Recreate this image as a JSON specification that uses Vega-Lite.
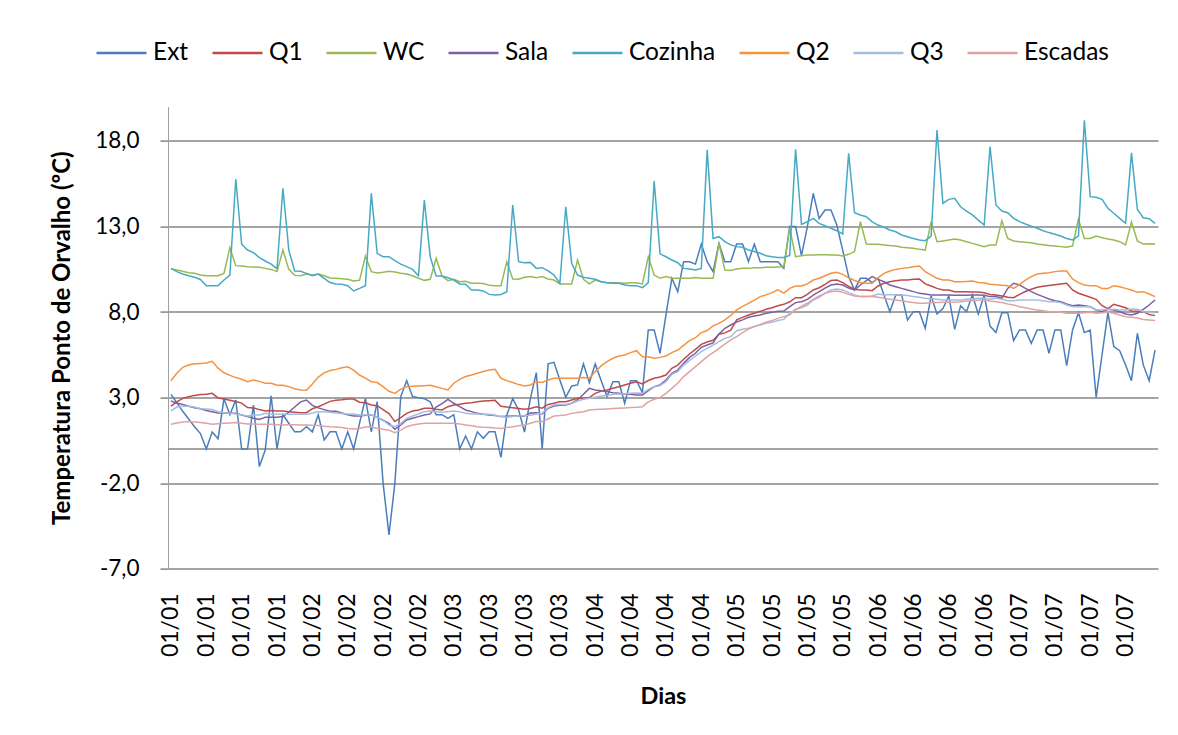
{
"$schema": "https://vega.github.io/schema/vega-lite/v6.json",
"width": 990,
"height": 462.2,
"autosize": {"type": "none"},
"padding": {"left": 168, "top": 106.6, "right": 20, "bottom": 166.2},
"background": "white",
"config": {"font": "Lato", "view": {"stroke": null}},
"data": {"values": [
{"d":0,"Ext":3.19,"Q1":2.5,"WC":10.53,"Sala":2.8,"Cozinha":10.55,"Q2":3.99,"Q3":2.22,"Escadas":1.45},
{"d":1,"Ext":2.7,"Q1":2.75,"WC":10.45,"Sala":2.68,"Cozinha":10.36,"Q2":4.42,"Q3":2.45,"Escadas":1.52},
{"d":2,"Ext":2.2,"Q1":2.95,"WC":10.38,"Sala":2.6,"Cozinha":10.22,"Q2":4.77,"Q3":2.5,"Escadas":1.57},
{"d":3,"Ext":1.75,"Q1":3.05,"WC":10.3,"Sala":2.5,"Cozinha":10.12,"Q2":4.9,"Q3":2.5,"Escadas":1.6},
{"d":4,"Ext":1.3,"Q1":3.13,"WC":10.26,"Sala":2.4,"Cozinha":10.03,"Q2":4.98,"Q3":2.45,"Escadas":1.58},
{"d":5,"Ext":0.9,"Q1":3.18,"WC":10.16,"Sala":2.35,"Cozinha":9.9,"Q2":5.0,"Q3":2.35,"Escadas":1.55},
{"d":6,"Ext":0.0,"Q1":3.2,"WC":10.12,"Sala":2.25,"Cozinha":9.54,"Q2":5.02,"Q3":2.33,"Escadas":1.5},
{"d":7,"Ext":0.99,"Q1":3.25,"WC":10.12,"Sala":2.18,"Cozinha":9.54,"Q2":5.12,"Q3":2.3,"Escadas":1.44},
{"d":8,"Ext":0.6,"Q1":2.98,"WC":10.12,"Sala":2.1,"Cozinha":9.54,"Q2":4.72,"Q3":2.18,"Escadas":1.48},
{"d":9,"Ext":2.94,"Q1":2.92,"WC":10.26,"Sala":2.1,"Cozinha":9.87,"Q2":4.45,"Q3":2.12,"Escadas":1.5},
{"d":10,"Ext":2.0,"Q1":2.85,"WC":11.76,"Sala":2.08,"Cozinha":10.16,"Q2":4.3,"Q3":2.08,"Escadas":1.52},
{"d":11,"Ext":2.86,"Q1":2.77,"WC":10.71,"Sala":2.08,"Cozinha":15.77,"Q2":4.17,"Q3":2.04,"Escadas":1.54},
{"d":12,"Ext":0.0,"Q1":2.68,"WC":10.69,"Sala":1.99,"Cozinha":11.96,"Q2":4.07,"Q3":2.0,"Escadas":1.5},
{"d":13,"Ext":0.0,"Q1":2.42,"WC":10.65,"Sala":1.89,"Cozinha":11.62,"Q2":3.93,"Q3":1.93,"Escadas":1.46},
{"d":14,"Ext":2.57,"Q1":2.4,"WC":10.63,"Sala":1.79,"Cozinha":11.47,"Q2":4.03,"Q3":1.98,"Escadas":1.46},
{"d":15,"Ext":-1.03,"Q1":2.3,"WC":10.61,"Sala":1.73,"Cozinha":11.18,"Q2":3.95,"Q3":1.98,"Escadas":1.45},
{"d":16,"Ext":-0.06,"Q1":2.22,"WC":10.55,"Sala":1.85,"Cozinha":10.98,"Q2":3.84,"Q3":2.08,"Escadas":1.45},
{"d":17,"Ext":3.1,"Q1":2.25,"WC":10.49,"Sala":1.85,"Cozinha":10.8,"Q2":3.84,"Q3":2.05,"Escadas":1.44},
{"d":18,"Ext":0.0,"Q1":2.22,"WC":10.36,"Sala":1.85,"Cozinha":10.53,"Q2":3.72,"Q3":2.03,"Escadas":1.42},
{"d":19,"Ext":2.0,"Q1":2.22,"WC":11.62,"Sala":1.89,"Cozinha":15.23,"Q2":3.72,"Q3":2.03,"Escadas":1.4},
{"d":20,"Ext":1.5,"Q1":2.18,"WC":10.49,"Sala":2.15,"Cozinha":11.62,"Q2":3.64,"Q3":2.03,"Escadas":1.42},
{"d":21,"Ext":1.0,"Q1":2.15,"WC":10.14,"Sala":2.45,"Cozinha":10.4,"Q2":3.52,"Q3":2.03,"Escadas":1.42},
{"d":22,"Ext":1.0,"Q1":2.12,"WC":10.12,"Sala":2.75,"Cozinha":10.38,"Q2":3.45,"Q3":2.03,"Escadas":1.4},
{"d":23,"Ext":1.3,"Q1":2.12,"WC":10.22,"Sala":2.86,"Cozinha":10.26,"Q2":3.43,"Q3":2.03,"Escadas":1.4},
{"d":24,"Ext":1.0,"Q1":2.35,"WC":10.16,"Sala":2.55,"Cozinha":10.12,"Q2":3.8,"Q3":2.1,"Escadas":1.38},
{"d":25,"Ext":2.0,"Q1":2.47,"WC":10.22,"Sala":2.4,"Cozinha":10.22,"Q2":4.2,"Q3":2.18,"Escadas":1.37},
{"d":26,"Ext":0.53,"Q1":2.62,"WC":10.12,"Sala":2.3,"Cozinha":9.97,"Q2":4.45,"Q3":2.18,"Escadas":1.33},
{"d":27,"Ext":1.0,"Q1":2.78,"WC":9.99,"Sala":2.2,"Cozinha":9.72,"Q2":4.58,"Q3":2.15,"Escadas":1.3},
{"d":28,"Ext":1.0,"Q1":2.85,"WC":9.97,"Sala":2.2,"Cozinha":9.64,"Q2":4.65,"Q3":2.1,"Escadas":1.28},
{"d":29,"Ext":0.0,"Q1":2.88,"WC":9.95,"Sala":2.1,"Cozinha":9.62,"Q2":4.75,"Q3":2.07,"Escadas":1.25},
{"d":30,"Ext":1.0,"Q1":2.92,"WC":9.91,"Sala":2.0,"Cozinha":9.54,"Q2":4.8,"Q3":2.05,"Escadas":1.2},
{"d":31,"Ext":0.0,"Q1":2.92,"WC":9.81,"Sala":1.93,"Cozinha":9.23,"Q2":4.6,"Q3":2.04,"Escadas":1.17},
{"d":32,"Ext":1.5,"Q1":2.73,"WC":9.85,"Sala":1.93,"Cozinha":9.38,"Q2":4.32,"Q3":1.99,"Escadas":1.2},
{"d":33,"Ext":2.96,"Q1":2.7,"WC":11.27,"Sala":1.97,"Cozinha":9.54,"Q2":4.14,"Q3":1.99,"Escadas":1.28},
{"d":34,"Ext":1.0,"Q1":2.57,"WC":10.36,"Sala":1.99,"Cozinha":14.93,"Q2":3.93,"Q3":1.99,"Escadas":1.3},
{"d":35,"Ext":2.76,"Q1":2.53,"WC":10.28,"Sala":1.85,"Cozinha":11.43,"Q2":3.88,"Q3":1.85,"Escadas":1.2},
{"d":36,"Ext":-2.0,"Q1":2.3,"WC":10.32,"Sala":1.68,"Cozinha":11.23,"Q2":3.64,"Q3":1.69,"Escadas":1.15},
{"d":37,"Ext":-5.02,"Q1":2.07,"WC":10.38,"Sala":1.5,"Cozinha":11.23,"Q2":3.37,"Q3":1.4,"Escadas":1.1},
{"d":38,"Ext":-2.0,"Q1":1.6,"WC":10.34,"Sala":1.15,"Cozinha":11.0,"Q2":3.25,"Q3":1.3,"Escadas":0.95},
{"d":39,"Ext":3.06,"Q1":1.83,"WC":10.26,"Sala":1.4,"Cozinha":10.8,"Q2":3.5,"Q3":1.5,"Escadas":1.1},
{"d":40,"Ext":3.99,"Q1":2.08,"WC":10.22,"Sala":1.69,"Cozinha":10.65,"Q2":3.64,"Q3":1.79,"Escadas":1.3},
{"d":41,"Ext":3.06,"Q1":2.22,"WC":10.12,"Sala":1.79,"Cozinha":10.49,"Q2":3.66,"Q3":1.93,"Escadas":1.4},
{"d":42,"Ext":3.0,"Q1":2.28,"WC":9.97,"Sala":1.89,"Cozinha":10.12,"Q2":3.68,"Q3":2.04,"Escadas":1.46},
{"d":43,"Ext":2.94,"Q1":2.38,"WC":9.85,"Sala":1.99,"Cozinha":14.54,"Q2":3.7,"Q3":2.18,"Escadas":1.5},
{"d":44,"Ext":2.76,"Q1":2.38,"WC":9.91,"Sala":2.05,"Cozinha":11.23,"Q2":3.72,"Q3":2.22,"Escadas":1.5},
{"d":45,"Ext":2.0,"Q1":2.32,"WC":11.14,"Sala":2.45,"Cozinha":10.1,"Q2":3.64,"Q3":2.18,"Escadas":1.5},
{"d":46,"Ext":2.0,"Q1":2.28,"WC":10.1,"Sala":2.65,"Cozinha":10.1,"Q2":3.54,"Q3":2.14,"Escadas":1.5},
{"d":47,"Ext":1.79,"Q1":2.47,"WC":9.83,"Sala":2.9,"Cozinha":10.0,"Q2":3.45,"Q3":2.18,"Escadas":1.5},
{"d":48,"Ext":2.0,"Q1":2.57,"WC":9.91,"Sala":2.67,"Cozinha":9.87,"Q2":3.84,"Q3":2.22,"Escadas":1.5},
{"d":49,"Ext":0.0,"Q1":2.61,"WC":9.77,"Sala":2.47,"Cozinha":9.64,"Q2":4.07,"Q3":2.18,"Escadas":1.46},
{"d":50,"Ext":0.76,"Q1":2.67,"WC":9.79,"Sala":2.28,"Cozinha":9.62,"Q2":4.23,"Q3":2.08,"Escadas":1.4},
{"d":51,"Ext":0.0,"Q1":2.7,"WC":9.68,"Sala":2.18,"Cozinha":9.29,"Q2":4.32,"Q3":2.04,"Escadas":1.35},
{"d":52,"Ext":1.0,"Q1":2.76,"WC":9.68,"Sala":2.08,"Cozinha":9.29,"Q2":4.42,"Q3":2.04,"Escadas":1.3},
{"d":53,"Ext":0.62,"Q1":2.8,"WC":9.66,"Sala":2.03,"Cozinha":9.23,"Q2":4.52,"Q3":2.03,"Escadas":1.27},
{"d":54,"Ext":1.0,"Q1":2.82,"WC":9.56,"Sala":1.99,"Cozinha":9.03,"Q2":4.61,"Q3":2.03,"Escadas":1.25},
{"d":55,"Ext":1.0,"Q1":2.84,"WC":9.54,"Sala":1.95,"Cozinha":9.0,"Q2":4.65,"Q3":1.97,"Escadas":1.22},
{"d":56,"Ext":-0.49,"Q1":2.5,"WC":9.54,"Sala":1.89,"Cozinha":9.03,"Q2":4.13,"Q3":1.89,"Escadas":1.2},
{"d":57,"Ext":1.99,"Q1":2.45,"WC":10.94,"Sala":1.91,"Cozinha":9.19,"Q2":3.99,"Q3":1.85,"Escadas":1.25},
{"d":58,"Ext":2.94,"Q1":2.41,"WC":9.93,"Sala":1.93,"Cozinha":14.25,"Q2":3.88,"Q3":1.9,"Escadas":1.3},
{"d":59,"Ext":2.28,"Q1":2.37,"WC":9.91,"Sala":1.93,"Cozinha":10.94,"Q2":3.76,"Q3":1.93,"Escadas":1.35},
{"d":60,"Ext":0.99,"Q1":2.32,"WC":10.03,"Sala":1.93,"Cozinha":10.88,"Q2":3.68,"Q3":1.95,"Escadas":1.4},
{"d":61,"Ext":2.94,"Q1":2.37,"WC":10.07,"Sala":2.1,"Cozinha":10.9,"Q2":3.74,"Q3":1.97,"Escadas":1.5},
{"d":62,"Ext":4.46,"Q1":2.47,"WC":10.01,"Sala":2.12,"Cozinha":10.55,"Q2":3.93,"Q3":2.04,"Escadas":1.6},
{"d":63,"Ext":0.0,"Q1":2.38,"WC":10.07,"Sala":2.05,"Cozinha":10.59,"Q2":3.88,"Q3":2.08,"Escadas":1.6},
{"d":64,"Ext":4.97,"Q1":2.6,"WC":9.93,"Sala":2.38,"Cozinha":10.4,"Q2":4.03,"Q3":2.42,"Escadas":1.75},
{"d":65,"Ext":5.06,"Q1":2.67,"WC":9.87,"Sala":2.51,"Cozinha":10.16,"Q2":4.13,"Q3":2.57,"Escadas":1.93},
{"d":66,"Ext":4.03,"Q1":2.76,"WC":9.64,"Sala":2.55,"Cozinha":9.68,"Q2":4.13,"Q3":2.6,"Escadas":1.95},
{"d":67,"Ext":3.02,"Q1":2.76,"WC":9.64,"Sala":2.57,"Cozinha":14.15,"Q2":4.13,"Q3":2.6,"Escadas":1.99},
{"d":68,"Ext":3.68,"Q1":2.86,"WC":9.64,"Sala":2.67,"Cozinha":10.84,"Q2":4.13,"Q3":2.67,"Escadas":2.08},
{"d":69,"Ext":3.74,"Q1":2.96,"WC":11.04,"Sala":2.86,"Cozinha":10.16,"Q2":4.13,"Q3":2.8,"Escadas":2.13},
{"d":70,"Ext":4.97,"Q1":2.96,"WC":9.91,"Sala":3.2,"Cozinha":10.03,"Q2":4.17,"Q3":2.9,"Escadas":2.18},
{"d":71,"Ext":3.87,"Q1":3.0,"WC":9.64,"Sala":3.54,"Cozinha":9.97,"Q2":4.13,"Q3":2.96,"Escadas":2.28},
{"d":72,"Ext":4.97,"Q1":3.25,"WC":9.87,"Sala":3.45,"Cozinha":9.91,"Q2":4.52,"Q3":3.02,"Escadas":2.3},
{"d":73,"Ext":4.0,"Q1":3.38,"WC":9.77,"Sala":3.4,"Cozinha":9.77,"Q2":4.85,"Q3":3.09,"Escadas":2.32},
{"d":74,"Ext":3.06,"Q1":3.45,"WC":9.71,"Sala":3.35,"Cozinha":9.71,"Q2":5.1,"Q3":3.13,"Escadas":2.34},
{"d":75,"Ext":3.93,"Q1":3.55,"WC":9.71,"Sala":3.29,"Cozinha":9.68,"Q2":5.3,"Q3":3.19,"Escadas":2.36},
{"d":76,"Ext":3.93,"Q1":3.64,"WC":9.71,"Sala":3.25,"Cozinha":9.68,"Q2":5.43,"Q3":3.21,"Escadas":2.38},
{"d":77,"Ext":2.67,"Q1":3.74,"WC":9.68,"Sala":3.21,"Cozinha":9.58,"Q2":5.49,"Q3":3.21,"Escadas":2.4},
{"d":78,"Ext":3.99,"Q1":3.84,"WC":9.71,"Sala":3.19,"Cozinha":9.54,"Q2":5.63,"Q3":3.25,"Escadas":2.42},
{"d":79,"Ext":3.99,"Q1":3.93,"WC":9.71,"Sala":3.15,"Cozinha":9.54,"Q2":5.74,"Q3":3.27,"Escadas":2.44},
{"d":80,"Ext":3.29,"Q1":3.8,"WC":9.64,"Sala":3.15,"Cozinha":9.42,"Q2":5.39,"Q3":3.25,"Escadas":2.47},
{"d":81,"Ext":6.95,"Q1":4.0,"WC":11.23,"Sala":3.4,"Cozinha":9.72,"Q2":5.39,"Q3":3.48,"Escadas":2.75},
{"d":82,"Ext":6.95,"Q1":4.13,"WC":10.16,"Sala":3.64,"Cozinha":15.65,"Q2":5.3,"Q3":3.64,"Escadas":2.9},
{"d":83,"Ext":5.59,"Q1":4.2,"WC":9.97,"Sala":3.74,"Cozinha":11.4,"Q2":5.35,"Q3":3.7,"Escadas":3.0},
{"d":84,"Ext":7.83,"Q1":4.32,"WC":10.07,"Sala":4.03,"Cozinha":11.23,"Q2":5.43,"Q3":3.93,"Escadas":3.25},
{"d":85,"Ext":9.97,"Q1":4.71,"WC":9.97,"Sala":4.42,"Cozinha":11.04,"Q2":5.63,"Q3":4.36,"Escadas":3.54},
{"d":86,"Ext":9.19,"Q1":4.9,"WC":9.97,"Sala":4.61,"Cozinha":10.88,"Q2":5.78,"Q3":4.52,"Escadas":3.84},
{"d":87,"Ext":10.94,"Q1":5.24,"WC":9.97,"Sala":5.0,"Cozinha":10.55,"Q2":6.05,"Q3":4.9,"Escadas":4.23},
{"d":88,"Ext":10.94,"Q1":5.55,"WC":9.97,"Sala":5.35,"Cozinha":10.51,"Q2":6.33,"Q3":5.16,"Escadas":4.52},
{"d":89,"Ext":10.8,"Q1":5.82,"WC":10.01,"Sala":5.59,"Cozinha":10.45,"Q2":6.5,"Q3":5.43,"Escadas":4.81},
{"d":90,"Ext":11.97,"Q1":6.11,"WC":9.97,"Sala":5.94,"Cozinha":10.55,"Q2":6.8,"Q3":5.69,"Escadas":5.1},
{"d":91,"Ext":10.94,"Q1":6.25,"WC":9.97,"Sala":6.07,"Cozinha":17.47,"Q2":6.92,"Q3":5.88,"Escadas":5.39},
{"d":92,"Ext":10.36,"Q1":6.35,"WC":9.97,"Sala":6.2,"Cozinha":12.3,"Q2":7.19,"Q3":6.07,"Escadas":5.63},
{"d":93,"Ext":12.01,"Q1":6.7,"WC":12.01,"Sala":6.72,"Cozinha":12.4,"Q2":7.34,"Q3":6.27,"Escadas":5.88},
{"d":94,"Ext":10.94,"Q1":6.78,"WC":10.45,"Sala":7.05,"Cozinha":12.11,"Q2":7.54,"Q3":6.46,"Escadas":6.13},
{"d":95,"Ext":10.94,"Q1":6.94,"WC":10.42,"Sala":7.24,"Cozinha":11.92,"Q2":7.8,"Q3":6.56,"Escadas":6.37},
{"d":96,"Ext":11.97,"Q1":7.54,"WC":10.51,"Sala":7.42,"Cozinha":11.82,"Q2":8.12,"Q3":6.91,"Escadas":6.56},
{"d":97,"Ext":11.97,"Q1":7.69,"WC":10.55,"Sala":7.54,"Cozinha":11.78,"Q2":8.33,"Q3":6.99,"Escadas":6.8},
{"d":98,"Ext":10.94,"Q1":7.83,"WC":10.55,"Sala":7.69,"Cozinha":11.62,"Q2":8.5,"Q3":7.05,"Escadas":7.0},
{"d":99,"Ext":11.97,"Q1":7.93,"WC":10.59,"Sala":7.77,"Cozinha":11.53,"Q2":8.7,"Q3":7.15,"Escadas":7.15},
{"d":100,"Ext":10.94,"Q1":8.04,"WC":10.59,"Sala":7.83,"Cozinha":11.43,"Q2":8.9,"Q3":7.24,"Escadas":7.28},
{"d":101,"Ext":10.94,"Q1":8.16,"WC":10.61,"Sala":7.93,"Cozinha":11.29,"Q2":9.0,"Q3":7.34,"Escadas":7.4},
{"d":102,"Ext":10.94,"Q1":8.25,"WC":10.61,"Sala":7.98,"Cozinha":11.23,"Q2":9.13,"Q3":7.4,"Escadas":7.5},
{"d":103,"Ext":10.94,"Q1":8.37,"WC":10.63,"Sala":8.04,"Cozinha":11.19,"Q2":9.29,"Q3":7.5,"Escadas":7.63},
{"d":104,"Ext":10.55,"Q1":8.45,"WC":10.65,"Sala":8.06,"Cozinha":11.19,"Q2":9.1,"Q3":7.57,"Escadas":7.73},
{"d":105,"Ext":12.99,"Q1":8.6,"WC":12.89,"Sala":8.31,"Cozinha":11.3,"Q2":9.38,"Q3":7.92,"Escadas":7.83},
{"d":106,"Ext":12.99,"Q1":8.84,"WC":11.23,"Sala":8.55,"Cozinha":17.5,"Q2":9.52,"Q3":8.16,"Escadas":8.12},
{"d":107,"Ext":11.29,"Q1":8.84,"WC":11.29,"Sala":8.6,"Cozinha":13.12,"Q2":9.52,"Q3":8.25,"Escadas":8.35},
{"d":108,"Ext":12.99,"Q1":9.03,"WC":11.33,"Sala":8.74,"Cozinha":13.27,"Q2":9.64,"Q3":8.41,"Escadas":8.51},
{"d":109,"Ext":14.93,"Q1":9.29,"WC":11.33,"Sala":8.99,"Cozinha":13.47,"Q2":9.87,"Q3":8.7,"Escadas":8.74},
{"d":110,"Ext":13.47,"Q1":9.42,"WC":11.35,"Sala":9.19,"Cozinha":13.18,"Q2":9.97,"Q3":8.86,"Escadas":8.94},
{"d":111,"Ext":13.96,"Q1":9.62,"WC":11.35,"Sala":9.4,"Cozinha":13.04,"Q2":10.12,"Q3":9.1,"Escadas":9.09},
{"d":112,"Ext":13.96,"Q1":9.84,"WC":11.33,"Sala":9.58,"Cozinha":12.89,"Q2":10.26,"Q3":9.29,"Escadas":9.19},
{"d":113,"Ext":13.08,"Q1":9.87,"WC":11.33,"Sala":9.64,"Cozinha":12.75,"Q2":10.32,"Q3":9.35,"Escadas":9.23},
{"d":114,"Ext":11.6,"Q1":9.72,"WC":11.27,"Sala":9.58,"Cozinha":12.56,"Q2":10.2,"Q3":9.29,"Escadas":9.15},
{"d":115,"Ext":10.07,"Q1":9.5,"WC":11.37,"Sala":9.4,"Cozinha":17.27,"Q2":10.0,"Q3":9.13,"Escadas":9.03},
{"d":116,"Ext":9.29,"Q1":9.33,"WC":11.53,"Sala":9.29,"Cozinha":13.8,"Q2":9.84,"Q3":9.0,"Escadas":8.94},
{"d":117,"Ext":9.97,"Q1":9.29,"WC":13.28,"Sala":9.58,"Cozinha":13.67,"Q2":9.72,"Q3":8.9,"Escadas":8.9},
{"d":118,"Ext":9.97,"Q1":9.29,"WC":11.97,"Sala":9.84,"Cozinha":13.57,"Q2":9.68,"Q3":8.9,"Escadas":8.9},
{"d":119,"Ext":9.72,"Q1":9.25,"WC":11.96,"Sala":10.07,"Cozinha":13.27,"Q2":9.68,"Q3":8.94,"Escadas":8.9},
{"d":120,"Ext":9.97,"Q1":9.52,"WC":11.96,"Sala":9.91,"Cozinha":13.08,"Q2":10.0,"Q3":9.05,"Escadas":8.86},
{"d":121,"Ext":9.0,"Q1":9.68,"WC":11.92,"Sala":9.77,"Cozinha":12.95,"Q2":10.26,"Q3":9.0,"Escadas":8.8},
{"d":122,"Ext":8.02,"Q1":9.77,"WC":11.88,"Sala":9.58,"Cozinha":12.79,"Q2":10.4,"Q3":9.03,"Escadas":8.74},
{"d":123,"Ext":9.0,"Q1":9.83,"WC":11.86,"Sala":9.48,"Cozinha":12.69,"Q2":10.49,"Q3":9.0,"Escadas":8.7},
{"d":124,"Ext":9.0,"Q1":9.87,"WC":11.78,"Sala":9.38,"Cozinha":12.5,"Q2":10.55,"Q3":9.0,"Escadas":8.66},
{"d":125,"Ext":7.54,"Q1":9.87,"WC":11.76,"Sala":9.29,"Cozinha":12.4,"Q2":10.59,"Q3":8.96,"Escadas":8.6},
{"d":126,"Ext":8.02,"Q1":9.91,"WC":11.72,"Sala":9.19,"Cozinha":12.3,"Q2":10.65,"Q3":8.9,"Escadas":8.55},
{"d":127,"Ext":8.02,"Q1":9.93,"WC":11.66,"Sala":9.09,"Cozinha":12.21,"Q2":10.69,"Q3":8.86,"Escadas":8.51},
{"d":128,"Ext":7.05,"Q1":9.64,"WC":11.62,"Sala":9.05,"Cozinha":12.17,"Q2":10.36,"Q3":8.8,"Escadas":8.51},
{"d":129,"Ext":8.94,"Q1":9.52,"WC":13.28,"Sala":9.0,"Cozinha":12.44,"Q2":10.16,"Q3":8.78,"Escadas":8.55},
{"d":130,"Ext":7.89,"Q1":9.38,"WC":12.11,"Sala":9.0,"Cozinha":18.63,"Q2":9.97,"Q3":8.74,"Escadas":8.55},
{"d":131,"Ext":8.2,"Q1":9.29,"WC":12.15,"Sala":9.0,"Cozinha":14.35,"Q2":9.87,"Q3":8.7,"Escadas":8.57},
{"d":132,"Ext":8.94,"Q1":9.29,"WC":12.21,"Sala":9.0,"Cozinha":14.58,"Q2":9.87,"Q3":8.7,"Escadas":8.57},
{"d":133,"Ext":6.99,"Q1":9.19,"WC":12.27,"Sala":8.98,"Cozinha":14.64,"Q2":9.77,"Q3":8.7,"Escadas":8.57},
{"d":134,"Ext":8.37,"Q1":9.19,"WC":12.21,"Sala":8.98,"Cozinha":14.15,"Q2":9.77,"Q3":8.7,"Escadas":8.6},
{"d":135,"Ext":8.02,"Q1":9.19,"WC":12.11,"Sala":8.98,"Cozinha":13.9,"Q2":9.79,"Q3":8.74,"Escadas":8.64},
{"d":136,"Ext":9.0,"Q1":9.17,"WC":12.01,"Sala":9.0,"Cozinha":13.67,"Q2":9.81,"Q3":8.78,"Escadas":8.66},
{"d":137,"Ext":7.89,"Q1":9.17,"WC":11.92,"Sala":9.0,"Cozinha":13.37,"Q2":9.73,"Q3":8.8,"Escadas":8.7},
{"d":138,"Ext":9.0,"Q1":9.13,"WC":11.82,"Sala":8.98,"Cozinha":13.08,"Q2":9.71,"Q3":8.8,"Escadas":8.7},
{"d":139,"Ext":7.18,"Q1":9.03,"WC":11.92,"Sala":8.9,"Cozinha":17.66,"Q2":9.62,"Q3":8.74,"Escadas":8.64},
{"d":140,"Ext":6.8,"Q1":9.0,"WC":11.92,"Sala":8.9,"Cozinha":14.25,"Q2":9.6,"Q3":8.8,"Escadas":8.6},
{"d":141,"Ext":7.96,"Q1":8.94,"WC":13.34,"Sala":8.8,"Cozinha":13.9,"Q2":9.56,"Q3":8.74,"Escadas":8.55},
{"d":142,"Ext":7.96,"Q1":8.86,"WC":12.3,"Sala":9.38,"Cozinha":13.8,"Q2":9.54,"Q3":8.66,"Escadas":8.47},
{"d":143,"Ext":6.33,"Q1":8.84,"WC":12.15,"Sala":9.68,"Cozinha":13.47,"Q2":9.38,"Q3":8.66,"Escadas":8.41},
{"d":144,"Ext":6.95,"Q1":9.03,"WC":12.11,"Sala":9.58,"Cozinha":13.28,"Q2":9.6,"Q3":8.7,"Escadas":8.31},
{"d":145,"Ext":6.95,"Q1":9.2,"WC":12.07,"Sala":9.38,"Cozinha":13.14,"Q2":9.87,"Q3":8.7,"Escadas":8.25},
{"d":146,"Ext":6.17,"Q1":9.33,"WC":12.05,"Sala":9.19,"Cozinha":13.02,"Q2":10.07,"Q3":8.7,"Escadas":8.18},
{"d":147,"Ext":6.95,"Q1":9.45,"WC":11.97,"Sala":9.03,"Cozinha":12.89,"Q2":10.22,"Q3":8.7,"Escadas":8.12},
{"d":148,"Ext":6.95,"Q1":9.5,"WC":11.93,"Sala":8.9,"Cozinha":12.75,"Q2":10.26,"Q3":8.66,"Escadas":8.08},
{"d":149,"Ext":5.59,"Q1":9.55,"WC":11.89,"Sala":8.76,"Cozinha":12.64,"Q2":10.3,"Q3":8.6,"Escadas":8.02},
{"d":150,"Ext":6.95,"Q1":9.6,"WC":11.86,"Sala":8.66,"Cozinha":12.54,"Q2":10.36,"Q3":8.6,"Escadas":8.02},
{"d":151,"Ext":6.95,"Q1":9.64,"WC":11.82,"Sala":8.6,"Cozinha":12.44,"Q2":10.4,"Q3":8.55,"Escadas":7.98},
{"d":152,"Ext":4.87,"Q1":9.68,"WC":11.78,"Sala":8.47,"Cozinha":12.3,"Q2":10.4,"Q3":8.41,"Escadas":7.93},
{"d":153,"Ext":6.95,"Q1":9.29,"WC":11.86,"Sala":8.37,"Cozinha":12.21,"Q2":9.93,"Q3":8.31,"Escadas":7.93},
{"d":154,"Ext":7.96,"Q1":9.1,"WC":13.42,"Sala":8.41,"Cozinha":12.44,"Q2":9.72,"Q3":8.31,"Escadas":7.93},
{"d":155,"Ext":6.8,"Q1":8.98,"WC":12.3,"Sala":8.37,"Cozinha":19.2,"Q2":9.58,"Q3":8.31,"Escadas":7.96},
{"d":156,"Ext":6.95,"Q1":8.86,"WC":12.3,"Sala":8.31,"Cozinha":14.74,"Q2":9.54,"Q3":8.31,"Escadas":7.98},
{"d":157,"Ext":3.02,"Q1":8.74,"WC":12.44,"Sala":8.12,"Cozinha":14.7,"Q2":9.54,"Q3":8.12,"Escadas":7.93},
{"d":158,"Ext":5.49,"Q1":8.37,"WC":12.34,"Sala":8.02,"Cozinha":14.58,"Q2":9.38,"Q3":8.12,"Escadas":7.96},
{"d":159,"Ext":7.96,"Q1":8.2,"WC":12.27,"Sala":8.16,"Cozinha":14.06,"Q2":9.38,"Q3":8.16,"Escadas":8.0},
{"d":160,"Ext":5.98,"Q1":8.45,"WC":12.21,"Sala":8.12,"Cozinha":13.77,"Q2":9.54,"Q3":8.16,"Escadas":7.93},
{"d":161,"Ext":5.74,"Q1":8.35,"WC":12.11,"Sala":8.02,"Cozinha":13.47,"Q2":9.48,"Q3":8.12,"Escadas":7.83},
{"d":162,"Ext":4.91,"Q1":8.25,"WC":11.92,"Sala":7.89,"Cozinha":13.18,"Q2":9.38,"Q3":8.12,"Escadas":7.73},
{"d":163,"Ext":3.99,"Q1":8.06,"WC":13.26,"Sala":7.83,"Cozinha":17.3,"Q2":9.29,"Q3":8.18,"Escadas":7.69},
{"d":164,"Ext":6.76,"Q1":8.04,"WC":12.15,"Sala":7.93,"Cozinha":13.99,"Q2":9.15,"Q3":8.16,"Escadas":7.65},
{"d":165,"Ext":4.91,"Q1":8.02,"WC":11.97,"Sala":8.16,"Cozinha":13.51,"Q2":9.19,"Q3":8.02,"Escadas":7.57},
{"d":166,"Ext":3.99,"Q1":7.85,"WC":11.99,"Sala":8.41,"Cozinha":13.45,"Q2":9.05,"Q3":7.98,"Escadas":7.54},
{"d":167,"Ext":5.78,"Q1":7.79,"WC":11.97,"Sala":8.7,"Cozinha":13.18,"Q2":8.9,"Q3":7.96,"Escadas":7.5}
]},
"layer": [
{
"data": {"values": [{}]},
"mark": {"type": "rule", "color": "#868686", "strokeWidth": 1.5},
"encoding": {"y": {"datum": 0, "type": "quantitative", "scale": {"domain": [-7, 20], "nice": false, "zero": false}}}
},
{
"transform": [{"fold": ["Ext", "Q1", "WC", "Sala", "Cozinha", "Q2", "Q3", "Escadas"], "as": ["serie", "valor"]}],
"mark": {"type": "line", "strokeWidth": 1.5, "interpolate": "linear"},
"encoding": {
"x": {"field": "d", "type": "quantitative",
"scale": {"domain": [-0.5, 167.5], "nice": false, "zero": false},
"axis": {"values": [0,6,12,18,24,30,36,42,48,54,60,66,72,78,84,90,96,102,108,114,120,126,132,138,144,150,156,162],
"labelExpr": "'01/0' + (floor(datum.value/24)+1)",
"labelAngle": 270, "labelFontSize": 23, "labelColor": "#000000", "labelPadding": 24,
"ticks": false, "domain": false, "grid": false,
"title": "Dias", "titleFontSize": 23.5, "titleFontWeight": "bold", "titleColor": "#000000", "titlePadding": 28}},
"y": {"field": "valor", "type": "quantitative",
"scale": {"domain": [-7, 20], "nice": false, "zero": false},
"axis": {"values": [-7, -2, 3, 8, 13, 18],
"labelExpr": "replace(replace(format(datum.value, '.1f'), '.', ','), '−', '-')",
"labelFontSize": 22.5, "labelColor": "#000000", "labelPadding": 21,
"tickSize": 8, "tickColor": "#868686", "tickWidth": 1.5,
"domainColor": "#a0a0a0", "domainWidth": 1,
"grid": true, "gridColor": "#868686", "gridWidth": 1.5,
"title": "Temperatura Ponto de Orvalho (ºC)", "titleFontSize": 24, "titleFontWeight": "bold", "titleColor": "#000000", "titlePadding": 20}},
"color": {"field": "serie", "type": "nominal",
"scale": {"domain": ["Ext", "Q1", "WC", "Sala", "Cozinha", "Q2", "Q3", "Escadas"],
"range": ["#4A7EBB", "#BE4B48", "#98B954", "#7D60A0", "#46AAC5", "#F69240", "#A5BDE0", "#E0A3A2"]},
"legend": {"orient": "none", "legendX": -73, "legendY": -80, "direction": "horizontal",
"title": null, "symbolType": "stroke", "symbolSize": 2500, "symbolStrokeWidth": 2.5,
"labelFontSize": 24.5, "labelColor": "#000000", "labelOffset": 5, "columnPadding": 18}}
}
}
]
}
